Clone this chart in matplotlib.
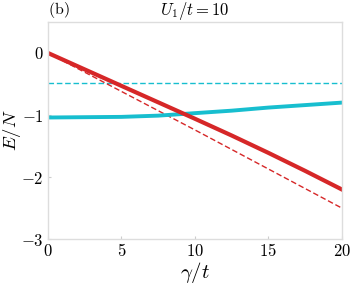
import numpy as np
import matplotlib
matplotlib.use("Agg")
import matplotlib.pyplot as plt

plt.rcParams["mathtext.fontset"] = "cm"
plt.rcParams["font.family"] = "serif"
plt.rcParams["font.serif"] = ["DejaVu Serif"]

# values
gamma = [0, 2.5, 5, 7.5, 10, 12.5, 15, 17.5, 20]
red_solid = [0.0, -0.265, -0.53, -0.795, -1.06, -1.33, -1.61, -1.9, -2.2]
red_dashed = [0.0, -0.31, -0.62, -0.93, -1.24, -1.555, -1.87, -2.185, -2.5]
cyan_solid = [-1.04, -1.035, -1.03, -1.01, -0.97, -0.93, -0.88, -0.84, -0.80]
cyan_dashed = [-0.48] * len(gamma)

xticks = [0, 5, 10, 15, 20]
yticks = [0, -1, -2, -3]

fig = plt.figure(figsize=(3.55, 2.85), dpi=100)
ax = fig.add_axes([0.135, 0.161, 0.828, 0.762])

ax.plot(gamma, cyan_dashed, color="#17becf", lw=1.0, ls=(0, (4, 2)))
ax.plot(gamma, red_dashed, color="#d62728", lw=1.0, ls=(0, (4, 2)))
ax.plot(gamma, cyan_solid, color="#17becf", lw=2.8)
ax.plot(gamma, red_solid, color="#d62728", lw=3.0)

ax.set_xlim(0, 20)
ax.set_ylim(-3, 0.5)
ax.set_xticks(xticks)
ax.set_yticks(yticks)
ax.set_xticklabels([f"${v}$" for v in xticks], fontsize=12)
ax.set_yticklabels([f"${v}$" for v in yticks], fontsize=12)
ax.tick_params(direction="in", length=2, color="#cccccc", pad=3)
for sp in ax.spines.values():
    sp.set_color("#dddddd")
    sp.set_linewidth(1.0)

ax.set_xlabel(r"$\gamma/t$", fontsize=15, labelpad=0)
ax.set_ylabel(r"$E/N$", fontsize=13.5, labelpad=0)
ax.yaxis.set_label_coords(-0.085, 0.5)
ax.set_title(r"$U_1/t=10$", fontsize=12, pad=3)
ax.text(0.0, 1.008, r"$\mathrm{(b)}$", transform=ax.transAxes, fontsize=11.5,
        va="bottom", ha="left")

fig.savefig("out.png", dpi=100)
